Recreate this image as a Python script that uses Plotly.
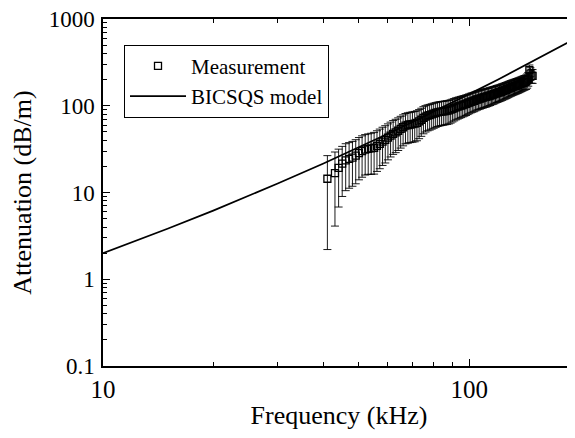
import plotly.graph_objects as go

# Measurement (frequency in kHz, attenuation in dB/m, +/- error)
freq = [41, 43, 44, 45, 46, 47, 48, 49, 50, 51, 52, 53, 54, 55, 56, 57, 58, 59, 60,
        61, 62, 63, 64, 65, 66, 67, 68, 69, 70, 71, 72, 73, 74, 75, 76, 77, 78, 79, 80,
        81, 82, 83, 84, 85, 86, 87, 88, 89, 90, 91, 92, 93, 94, 95, 96, 97, 98, 99, 100,
        101, 102, 103, 104, 105, 106, 107, 108, 109, 110, 111, 112, 113, 114, 115, 116,
        117, 118, 119, 120, 121, 122, 123, 124, 125, 126, 127, 128, 129, 130, 131, 132,
        133, 134, 135, 136, 137, 138, 139, 140, 141, 142, 143, 144, 145, 146, 147, 148, 149]
atten = [14.4, 16.7, 19.2, 21.5, 23.5, 24.4, 25.3, 26.6, 28.5, 30.0, 31.2, 31.8, 32.2, 32.8,
         34.5, 36.3, 38.5, 40.4, 42.8, 45.2, 47.5, 49.3, 51.5, 54.0, 56.5, 58.9, 60.0, 60.8,
         61.5, 62.2, 63.5, 66.0, 69.0, 72.5, 75.0, 76.8, 78.0, 79.5, 81.0, 82.5, 83.8, 84.8,
         85.5, 86.2, 87.0, 87.7, 88.5, 90.0, 92.0, 94.0, 96.0, 97.5, 99.0, 100.5, 102, 103.5,
         105, 107, 109, 111, 112.5, 114, 116, 118, 119.5, 121, 122.5, 124, 125.5, 126.5, 128,
         129.5, 131, 133, 134.5, 136, 138, 140, 141.5, 143, 145, 147, 149, 151, 153, 155,
         157.5, 160, 162, 164, 166, 168, 170, 172, 174, 176, 178.5, 181, 183.5, 186, 188,
         190, 196, 205, 257, 235, 222, 221]
err = [12.2, 12.6, 12.4, 12.5, 13.0, 13.2, 13.5, 14.0, 14.5, 15.0, 15.3, 15.6, 16.0, 16.5,
       17.0, 17.5, 18.0, 18.5, 19.0, 19.5, 20.0, 20.5, 21.0, 21.5, 22.0, 22.5, 23.0, 23.2,
       23.5, 23.8, 24.0, 24.3, 24.6, 25.0, 25.2, 25.4, 25.6, 25.8, 26.0, 26.1, 26.2, 26.3,
       26.4, 26.5, 26.6, 26.7, 26.8, 26.9, 27.0, 27.1, 27.2, 27.3, 27.4, 27.5, 27.6, 27.7,
       27.8, 27.9, 28.0, 28.2, 28.4, 28.6, 28.8, 29.0, 29.2, 29.4, 29.6, 29.8, 30.0, 30.1,
       30.2, 30.3, 30.4, 30.5, 30.6, 30.7, 30.8, 30.9, 31.0, 31.2, 31.4, 31.6, 31.8, 32.0,
       32.2, 32.4, 32.6, 32.8, 33.0, 33.2, 33.4, 33.6, 33.8, 34.0, 34.2, 34.4, 34.6, 34.8,
       35.0, 35.2, 35.4, 36.0, 36.5, 37.0, 38.0, 39.0, 40.0, 40.0]

# BICSQS model curve
model_f = [10, 12, 15, 20, 25, 30, 40, 50, 60, 70, 80, 100, 120, 150, 200]
model_a = [2.0, 2.66, 3.82, 6.19, 9.13, 12.7, 21.6, 33.2, 47.6, 64.9, 85.3, 136, 201, 329, 630]

x_major = [10, 100]
x_major_text = ["10", "100"]
x_minor = [20, 30, 40, 50, 60, 70, 80, 90]
y_major = [0.1, 1, 10, 100, 1000]
y_major_text = ["0.1", "1", "10", "100", "1000"]
y_minor = [0.2, 0.3, 0.4, 0.5, 0.6, 0.7, 0.8, 0.9,
           2, 3, 4, 5, 6, 7, 8, 9,
           20, 30, 40, 50, 60, 70, 80, 90,
           200, 300, 400, 500, 600, 700, 800, 900]

FONT = "Liberation Serif"

fig = go.Figure()
fig.add_trace(go.Scatter(
    x=freq, y=atten, mode="markers", name="Measurement",
    marker=dict(symbol="square-open", size=7, color="black", line=dict(width=1.3)),
    error_y=dict(type="data", array=err, visible=True, color="black",
                 thickness=0.9, width=4),
))
fig.add_trace(go.Scatter(
    x=model_f, y=model_a, mode="lines", name="BICSQS model",
    line=dict(color="black", width=1.8),
))

axis_common = dict(
    showline=True, linecolor="black", linewidth=1.5, mirror="allticks",
    ticks="inside", tickcolor="black", showgrid=False, zeroline=False,
    automargin=False, ticklabeloverflow="allow",
)

fig.update_xaxes(
    type="log", range=[1, 2.289], tickmode="array", tickvals=x_major,
    ticktext=x_major_text, ticklen=7, tickwidth=1.2,
    tickfont=dict(family=FONT, size=25, color="black"),
    minor=dict(tickmode="array", tickvals=x_minor, ticks="inside", ticklen=4,
               tickcolor="black", tickwidth=1),
    title=dict(text="Frequency (kHz)", font=dict(family=FONT, size=26, color="black"),
               standoff=6),
    **axis_common,
)
fig.update_yaxes(
    type="log", range=[-1, 3], tickmode="array", tickvals=y_major,
    ticktext=y_major_text, ticklen=7, tickwidth=1.2, ticklabelstandoff=2,
    tickfont=dict(family=FONT, size=23, color="black"),
    minor=dict(tickmode="array", tickvals=y_minor, ticks="inside", ticklen=4,
               tickcolor="black", tickwidth=1),
    title=dict(text="Attenuation (dB/m)", font=dict(family=FONT, size=26, color="black"),
               standoff=10),
    **axis_common,
)

# page body has an 8px margin: figure sized/offset so the plot lands where the reference has it
fig.update_layout(
    width=567, height=422,
    margin=dict(l=95, r=0, t=11, b=64),
    paper_bgcolor="white", plot_bgcolor="white",
    showlegend=True,
    legend=dict(
        x=0.0445, y=0.926, xanchor="left", yanchor="top",
        bordercolor="black", borderwidth=1, bgcolor="white",
        font=dict(family=FONT, size=21, color="black"),
        itemwidth=56, tracegroupgap=0,
        entrywidth=228, entrywidthmode="pixels",
    ),
)

fig.write_html("out.html")
